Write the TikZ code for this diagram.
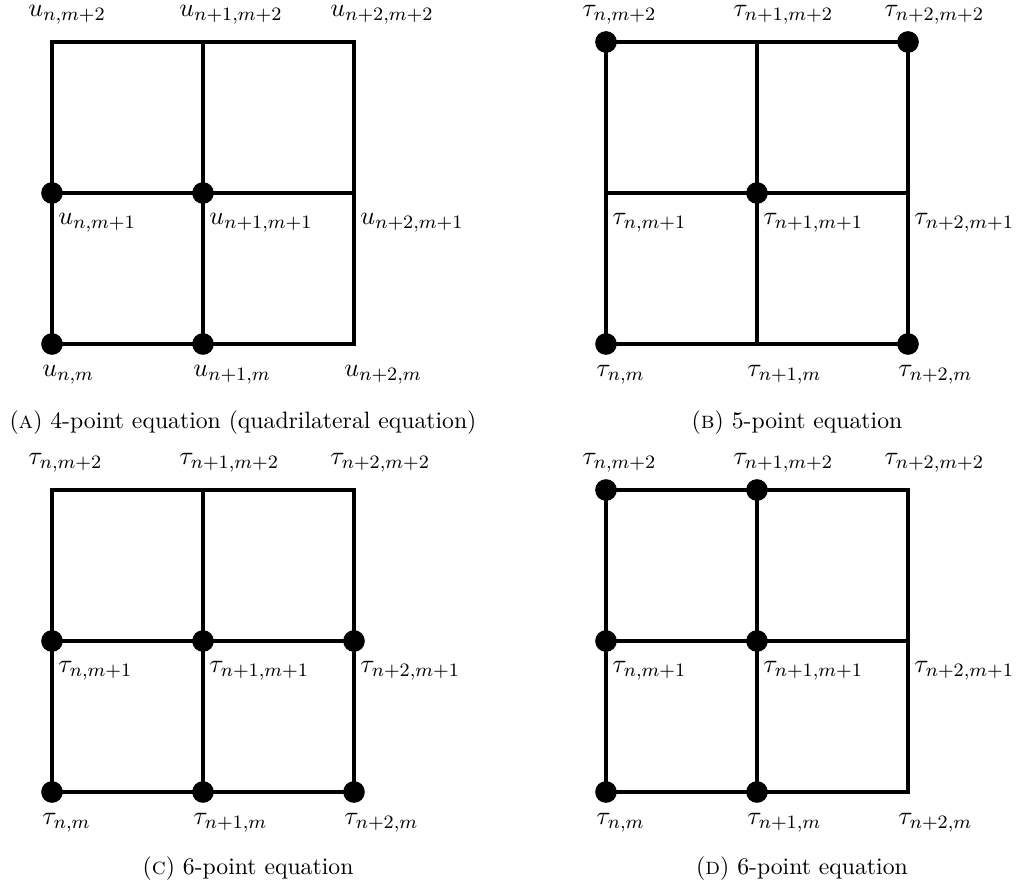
\documentclass[tikz,border=0pt]{standalone}
\usepackage{amsmath}
\begin{document}
\begin{tikzpicture}[x=0.422pt,y=-0.422pt,
  gridline/.style={line width=1.3pt},
  dot/.style={circle,fill=black,inner sep=0pt,minimum size=9.15pt},
  lab/.style={font=\fontsize{10.95}{13.6}\selectfont,inner sep=0pt,anchor=west},
  captext/.style={font=\fontsize{10}{12}\selectfont,inner sep=0pt}]
\useasboundingbox (0,0) rectangle (1023,891);
\foreach \p/\xa/\ya/\s in {A/52/42/u, B/606/42/\tau, C/52/490/\tau, D/606/490/\tau}{
  \foreach \i in {0,1,2}{
    \foreach \j in {0,1,2}{
      \coordinate (\p-\i-\j) at (\xa+151*\i,\ya+151*\j);
    }
  }
  \draw[gridline] (\p-0-0) -- (\p-2-0) -- (\p-2-2) -- (\p-0-2) -- cycle;
  \draw[gridline] (\p-1-0) -- (\p-1-2);
  \draw[gridline] (\p-0-1) -- (\p-2-1);
  \foreach \i/\n in {0/n,1/n+1,2/n+2}{
    \node[lab] (\p-t\i) at ([shift={(-24,-27)}]\p-\i-0) {$\s_{\n,m+2}$};
    \node[lab] (\p-m\i) at ([shift={(6,30)}]\p-\i-1) {$\s_{\n,m+1}$};
    \node[lab] (\p-b\i) at ([shift={(-10,31)}]\p-\i-2) {$\s_{\n,m}$};
  }
}
\foreach \i/\j in {0/1,1/1,0/2,1/2}{\node[dot] (A-d\i\j) at (A-\i-\j) {};}
\foreach \i/\j in {0/0,2/0,1/1,0/2,2/2}{\node[dot] (B-d\i\j) at (B-\i-\j) {};}
\foreach \i/\j in {0/1,1/1,2/1,0/2,1/2,2/2}{\node[dot] (C-d\i\j) at (C-\i-\j) {};}
\foreach \i/\j in {0/0,1/0,0/1,1/1,0/2,1/2}{\node[dot] (D-d\i\j) at (D-\i-\j) {};}
\node[captext] (capA) at (243,423) {(\textsc{a}) 4-point equation (quadrilateral equation)};
\node[captext] (capB) at (797,423) {(\textsc{b}) 5-point equation};
\node[captext] (capC) at (248,869) {(\textsc{c}) 6-point equation};
\node[captext] (capD) at (802,869) {(\textsc{d}) 6-point equation};
\end{tikzpicture}
\end{document}
